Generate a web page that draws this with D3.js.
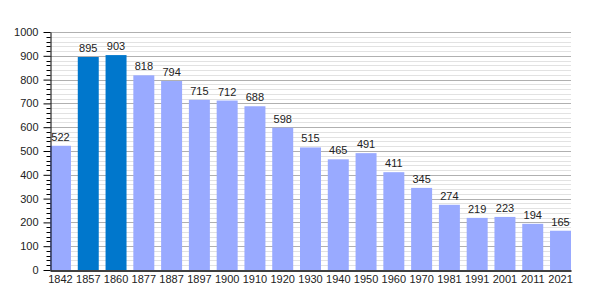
<!DOCTYPE html>
<html>
<head>
<meta charset="utf-8">
<script src="https://cdn.jsdelivr.net/npm/d3@7"></script>
<style>
  body { margin: 0; background: #fff; }
  svg text { font-family: "Liberation Sans", Arial, sans-serif; fill: #222; }
</style>
</head>
<body>
<div id="chart"></div>
<script>
// --- Data ---
const years = ['1842', '1857', '1860', '1877', '1887', '1897', '1900', '1910', '1920', '1930',
               '1940', '1950', '1960', '1970', '1981', '1991', '2001', '2011', '2021'];
const population = [522, 895, 903, 818, 794, 715, 712, 688, 598, 515,
                    465, 491, 411, 345, 274, 219, 223, 194, 165];
const highlighted = ['1857', '1860'];   // darker bars
const yTicks = [0, 100, 200, 300, 400, 500, 600, 700, 800, 900, 1000];

// --- Setup ---
const width = 600, height = 300;
const margin = { left: 50, right: 29, top: 32, bottom: 30 };

const svg = d3.select('#chart').append('svg')
    .attr('width', width)
    .attr('height', height);

const x = d3.scaleBand()
    .domain(years)
    .range([margin.left, width - margin.right])
    .paddingInner(0.245)
    .paddingOuter(0);

const y = d3.scaleLinear()
    .domain([0, 1000])
    .range([height - margin.bottom, margin.top]);

// Grid lines: minor every 20, major every 100
const grid = svg.append('g');
grid.selectAll('line.minor')
    .data(d3.range(20, 1001, 20).filter(v => v % 100 !== 0))
    .join('line')
    .attr('x1', margin.left).attr('x2', width - margin.right)
    .attr('y1', d => Math.round(y(d)) + 0.5).attr('y2', d => Math.round(y(d)) + 0.5)
    .attr('stroke', '#e2e2e2');
grid.selectAll('line.major')
    .data(yTicks.slice(1))
    .join('line')
    .attr('x1', margin.left).attr('x2', width - margin.right)
    .attr('y1', d => Math.round(y(d)) + 0.5).attr('y2', d => Math.round(y(d)) + 0.5)
    .attr('stroke', '#b0b0b0');

// Bars
svg.append('g').selectAll('rect')
    .data(years)
    .join('rect')
    .attr('x', d => x(d))
    .attr('y', (d, i) => y(population[i]))
    .attr('width', x.bandwidth())
    .attr('height', (d, i) => y(0) - y(population[i]))
    .attr('fill', d => highlighted.includes(d) ? '#0077cc' : '#99aaff');

// Value labels
svg.append('g').selectAll('text')
    .data(years)
    .join('text')
    .attr('x', d => x(d) + x.bandwidth() / 2)
    .attr('y', (d, i) => y(population[i]) - 5)
    .attr('text-anchor', 'middle')
    .attr('font-size', 11)
    .text((d, i) => population[i]);

// Y axis with minor ticks
const yAxis = svg.append('g')
    .attr('transform', `translate(${margin.left + 0.5},0)`)
    .call(d3.axisLeft(y).tickValues(yTicks).tickFormat(d3.format('d'))
        .tickSize(7).tickPadding(5).tickSizeOuter(0));
yAxis.selectAll('text').attr('font-size', 11).style('fill', '#222');
yAxis.select('.domain').attr('stroke', '#000');
yAxis.selectAll('.tick line').attr('stroke', '#000');

svg.append('g')
    .attr('transform', `translate(${margin.left + 0.5},0)`)
    .selectAll('line')
    .data(d3.range(20, 1000, 20).filter(v => v % 100 !== 0))
    .join('line')
    .attr('x1', -4).attr('x2', 0)
    .attr('y1', d => Math.round(y(d)) + 0.5).attr('y2', d => Math.round(y(d)) + 0.5)
    .attr('stroke', '#000');

// X axis
const xAxis = svg.append('g')
    .attr('transform', `translate(0,${y(0) + 0.5})`)
    .call(d3.axisBottom(x).tickSize(0).tickPadding(5).tickSizeOuter(0));
xAxis.selectAll('text').attr('font-size', 11).style('fill', '#222');
xAxis.select('.domain').attr('stroke', '#000').attr('stroke-width', 1.5);
</script>
</body>
</html>
